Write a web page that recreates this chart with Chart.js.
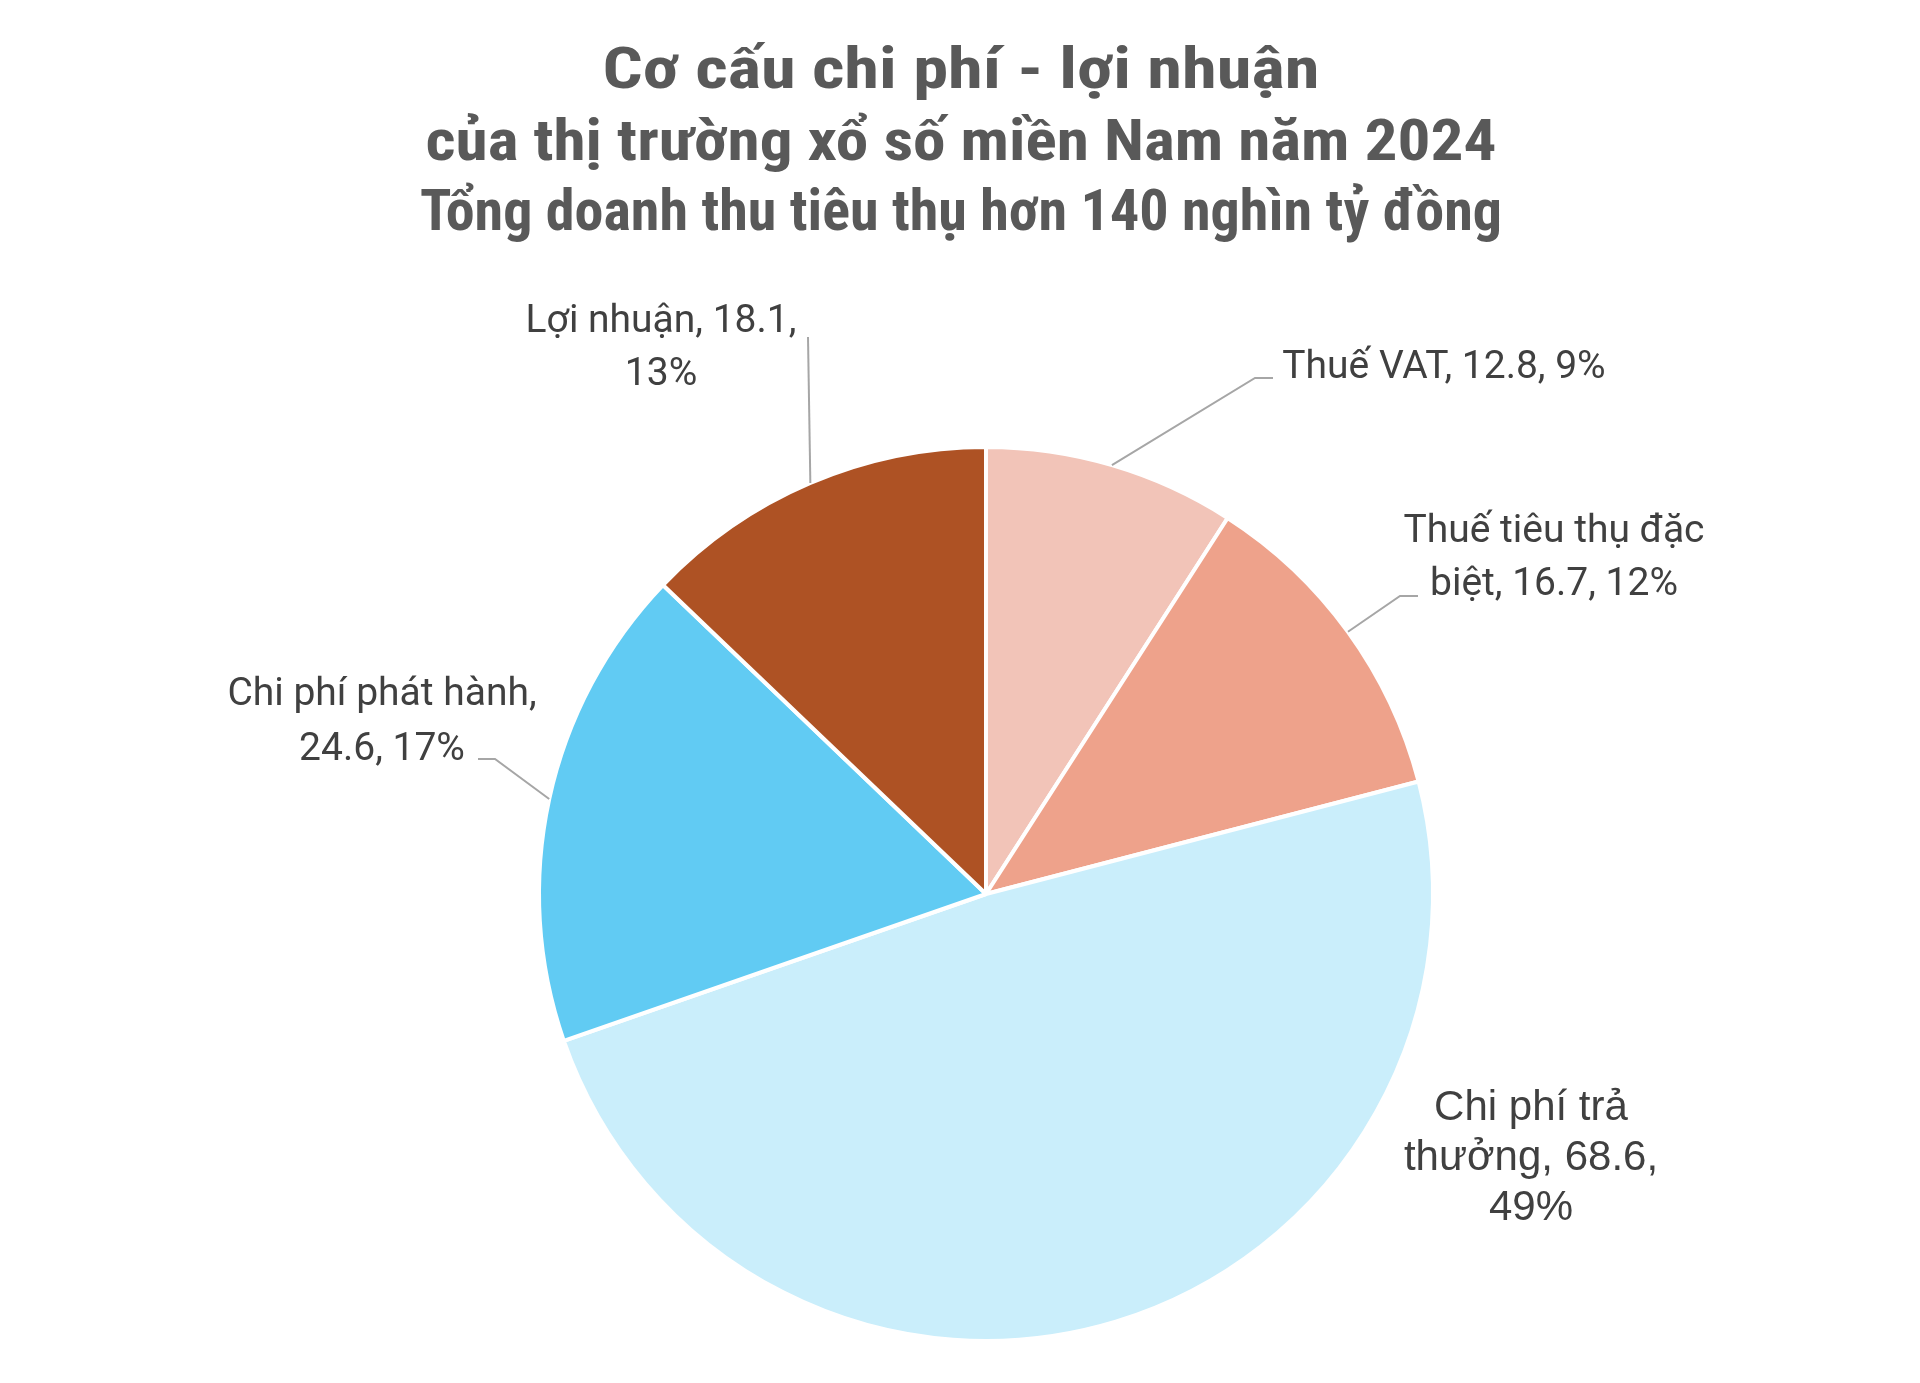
<!DOCTYPE html>
<html lang="vi">
<head>
<meta charset="utf-8">
<title>Cơ cấu chi phí - lợi nhuận</title>
<script src="https://cdn.jsdelivr.net/npm/chart.js@4.4.1/dist/chart.umd.min.js"></script>
<style>
  html, body { margin: 0; padding: 0; background: #ffffff; }
  #wrap { width: 1920px; height: 1383px; position: relative; }
</style>
</head>
<body>
<div id="wrap"><canvas id="pie" width="1920" height="1383"></canvas></div>
<script>
const titleLines = [
  "Cơ cấu chi phí - lợi nhuận",
  "của thị trường xổ số miền Nam năm 2024",
  "Tổng doanh thu tiêu thụ hơn 140 nghìn tỷ đồng",
];
const categories = [
  "Thuế VAT",
  "Thuế tiêu thụ đặc biệt",
  "Chi phí trả thưởng",
  "Chi phí phát hành",
  "Lợi nhuận",
];
const values = [12.8, 16.7, 68.6, 24.6, 18.1];
const sliceColors = ["#f2c4b8", "#eea28b", "#caeefb", "#61cbf3", "#ae5224"];

// title layout: baseline y and measured width of each line
const titleLayout = [
  { y: 88, width: 717 },
  { y: 160, width: 1071 },
  { y: 230, width: 1082 },
];

// label layout per slice: words per line, centre x, first baseline, line gap, leader elbow
const labelLayout = [
  { words: [4], x: 1444, y: 378, gap: 50, font: '39px Roboto, "Liberation Sans", sans-serif', leader: [[1255, 378], [1273, 378]] },
  { words: [4, 3], x: 1554, y: 542, gap: 53, font: '39px Roboto, "Liberation Sans", sans-serif', leader: [[1400, 596], [1418, 596]] },
  { words: [3, 2, 1], x: 1531, y: 1120, gap: 50, font: '42px "Liberation Sans", Arial, sans-serif', leader: null },
  { words: [4, 2], x: 382, y: 705, gap: 55, font: '39px Roboto, "Liberation Sans", sans-serif', leader: [[495, 759], [478, 759]] },
  { words: [3, 1], x: 661, y: 332, gap: 53, font: '39px Roboto, "Liberation Sans", sans-serif', leader: [[808, 337]] },
];

const total = values.reduce((a, b) => a + b, 0);

function labelLines(i) {
  const pct = Math.round((values[i] / total) * 100);
  const words = `${categories[i]}, ${values[i]}, ${pct}%`.split(" ");
  const lines = [];
  let pos = 0;
  labelLayout[i].words.forEach((n) => {
    lines.push(words.slice(pos, pos + n).join(" "));
    pos += n;
  });
  return lines;
}

const labelPlugin = {
  id: "pieLabels",
  afterDatasetsDraw(chart) {
    const ctx = chart.ctx;
    const meta = chart.getDatasetMeta(0);

    // title
    ctx.save();
    ctx.fillStyle = "#595959";
    ctx.textAlign = "center";
    ctx.textBaseline = "alphabetic";
    ctx.font = 'bold 58px "Liberation Sans Narrow", "Roboto Condensed", Roboto, sans-serif';
    titleLines.forEach((line, i) => {
      const w = ctx.measureText(line).width;
      const sx = titleLayout[i].width / w;
      ctx.save();
      ctx.translate(961, titleLayout[i].y);
      ctx.scale(sx, 1);
      ctx.fillText(line, 0, 0);
      ctx.restore();
    });
    ctx.restore();

    // leader lines
    ctx.save();
    ctx.strokeStyle = "#a6a6a6";
    ctx.lineWidth = 2;
    meta.data.forEach((arc, i) => {
      const lay = labelLayout[i];
      if (!lay.leader) return;
      const mid = (arc.startAngle + arc.endAngle) / 2;
      const px = arc.x + Math.cos(mid) * arc.outerRadius;
      const py = arc.y + Math.sin(mid) * arc.outerRadius;
      ctx.beginPath();
      ctx.moveTo(px, py);
      lay.leader.forEach(([lx, ly]) => ctx.lineTo(lx, ly));
      ctx.stroke();
    });
    ctx.restore();

    // data labels
    ctx.save();
    ctx.fillStyle = "#404040";
    ctx.textAlign = "center";
    ctx.textBaseline = "alphabetic";
    categories.forEach((cat, i) => {
      const lay = labelLayout[i];
      ctx.font = lay.font;
      labelLines(i).forEach((line, j) => {
        ctx.fillText(line, lay.x, lay.y + j * lay.gap);
      });
    });
    ctx.restore();
  },
};

new Chart(document.getElementById("pie"), {
  type: "pie",
  data: {
    labels: categories,
    datasets: [
      {
        data: values,
        backgroundColor: sliceColors,
        borderColor: "#ffffff",
        borderWidth: 4,
      },
    ],
  },
  options: {
    responsive: false,
    animation: false,
    devicePixelRatio: 1,
    layout: {
      padding: { top: 445, bottom: 40, left: 537, right: 485 },
    },
    plugins: {
      legend: { display: false },
      tooltip: { enabled: false },
      title: { display: false },
    },
  },
  plugins: [labelPlugin],
});
</script>
</body>
</html>
